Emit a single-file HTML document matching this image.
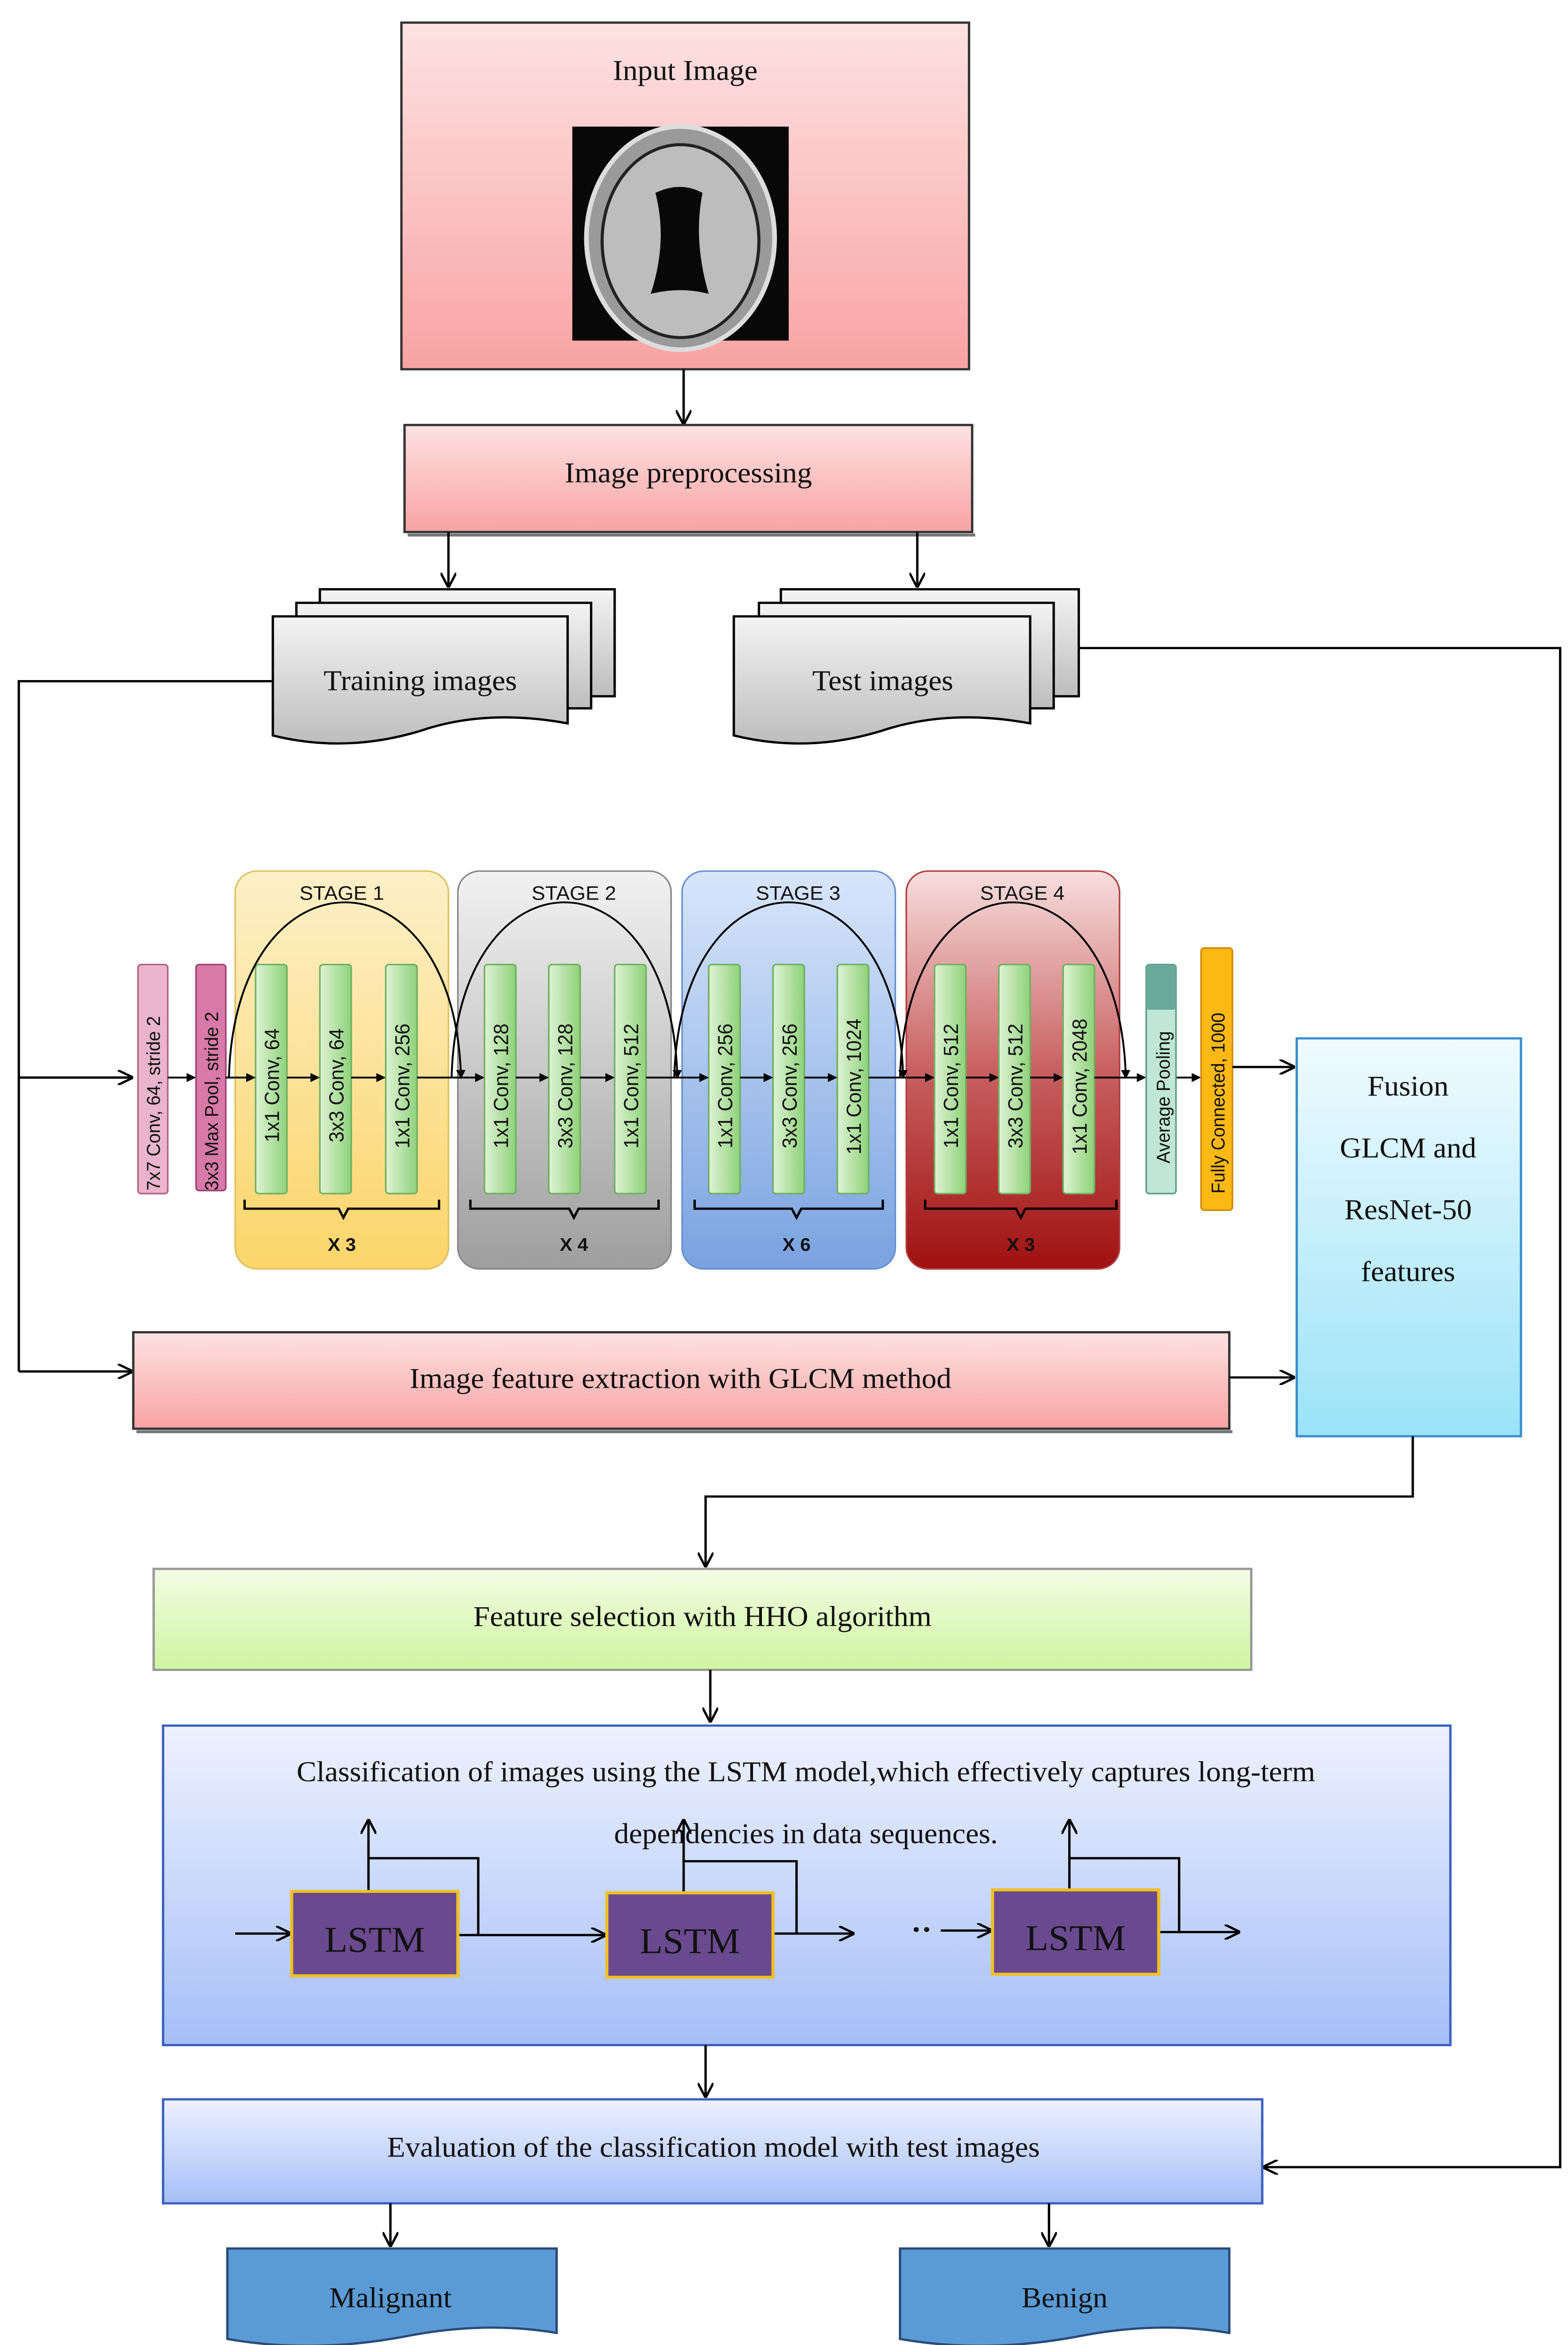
<!DOCTYPE html>
<html><head><meta charset="utf-8"><style>
html,body{margin:0;padding:0;background:#fff;width:100%;height:100%;overflow:hidden}
svg{display:block;position:absolute;left:0;top:0;width:100vw;height:100vh}
.s{font-family:"Liberation Serif",serif;fill:#111}
.a{font-family:"Liberation Sans",sans-serif;fill:#111}
</style></head><body>
<svg viewBox="0 0 1000 1556" preserveAspectRatio="none" xmlns="http://www.w3.org/2000/svg">
<defs>
<linearGradient id="pk" x1="0" y1="0" x2="0" y2="1"><stop offset="0" stop-color="#fde2e2"/><stop offset="1" stop-color="#f9a3a3"/></linearGradient>
<linearGradient id="gr" x1="0" y1="0" x2="0" y2="1"><stop offset="0" stop-color="#f4f4f4"/><stop offset="1" stop-color="#bdbdbd"/></linearGradient>
<linearGradient id="y1" x1="0" y1="0" x2="0" y2="1"><stop offset="0" stop-color="#fdf0c8"/><stop offset="1" stop-color="#fcd56a"/></linearGradient>
<linearGradient id="g2" x1="0" y1="0" x2="0" y2="1"><stop offset="0" stop-color="#f2f2f2"/><stop offset="1" stop-color="#9e9e9e"/></linearGradient>
<linearGradient id="b3" x1="0" y1="0" x2="0" y2="1"><stop offset="0" stop-color="#d8e6fb"/><stop offset="1" stop-color="#7aa2e0"/></linearGradient>
<linearGradient id="r4" x1="0" y1="0" x2="0" y2="1"><stop offset="0" stop-color="#f8dede"/><stop offset="0.5" stop-color="#c86060"/><stop offset="1" stop-color="#a01010"/></linearGradient>
<linearGradient id="gb" x1="0" y1="0" x2="1" y2="0"><stop offset="0" stop-color="#dff3d4"/><stop offset="1" stop-color="#8ed17a"/></linearGradient>
<linearGradient id="cy" x1="0" y1="0" x2="0" y2="1"><stop offset="0" stop-color="#f0fbff"/><stop offset="1" stop-color="#9be3f8"/></linearGradient>
<linearGradient id="lg" x1="0" y1="0" x2="0" y2="1"><stop offset="0" stop-color="#f3fde4"/><stop offset="1" stop-color="#cff5a0"/></linearGradient>
<linearGradient id="bl" x1="0" y1="0" x2="0" y2="1"><stop offset="0" stop-color="#eef2fe"/><stop offset="1" stop-color="#a6bff8"/></linearGradient>
<marker id="ar" markerWidth="10" markerHeight="10" refX="9" refY="5" orient="auto" markerUnits="userSpaceOnUse"><path d="M0,0 L10,5 L0,10" fill="none" stroke="#000" stroke-width="1.5"/></marker>
<marker id="sa" markerWidth="6" markerHeight="6" refX="5" refY="3" orient="auto" markerUnits="userSpaceOnUse"><path d="M0,0 L6,3 L0,6 Z" fill="#000"/></marker>
</defs>

<rect x="256" y="15" width="362" height="230" fill="url(#pk)" stroke="#333" stroke-width="1.5"/>
<text x="437" y="53" class="s" font-size="19" text-anchor="middle">Input Image</text>
<rect x="365" y="84" width="138" height="142" fill="#080808"/>
<ellipse cx="434" cy="158" rx="60" ry="74" fill="#9a9a9a" stroke="#ddd" stroke-width="3"/>
<ellipse cx="434" cy="160" rx="50" ry="64" fill="#bdbdbd" stroke="#222" stroke-width="2"/>
<path d="M418,128 Q434,120 448,128 Q442,160 452,195 Q434,190 415,195 Q426,160 418,128Z" fill="#080808"/>

<line x1="436" y1="245" x2="436" y2="281" stroke="#000" stroke-width="1.5" marker-end="url(#ar)"/>
<rect x="258" y="282" width="362" height="71" fill="url(#pk)" stroke="#333" stroke-width="1.5"/>
<line x1="260" y1="355" x2="622" y2="355" stroke="#777" stroke-width="2"/>
<text x="439" y="320" class="s" font-size="19" text-anchor="middle">Image preprocessing</text>
<line x1="286" y1="353" x2="286" y2="389" stroke="#000" stroke-width="1.5" marker-end="url(#ar)"/>
<line x1="585" y1="353" x2="585" y2="389" stroke="#000" stroke-width="1.5" marker-end="url(#ar)"/>

<rect x="204" y="391" width="188" height="71" fill="url(#gr)" stroke="#000" stroke-width="1.5"/>
<rect x="189" y="400" width="188" height="70" fill="url(#gr)" stroke="#000" stroke-width="1.5"/>
<path d="M174,409 H362 V480 Q310,470 268,485 Q220,500 174,488 Z" fill="url(#gr)" stroke="#000" stroke-width="1.5"/>
<text x="268" y="458" class="s" font-size="19" text-anchor="middle">Training images</text>
<rect x="498" y="391" width="190" height="71" fill="url(#gr)" stroke="#000" stroke-width="1.5"/>
<rect x="484" y="400" width="188" height="70" fill="url(#gr)" stroke="#000" stroke-width="1.5"/>
<path d="M468,409 H657 V480 Q605,470 562,485 Q515,500 468,488 Z" fill="url(#gr)" stroke="#000" stroke-width="1.5"/>
<text x="563" y="458" class="s" font-size="19" text-anchor="middle">Test images</text>

<polyline points="174,452 12,452 12,910" fill="none" stroke="#000" stroke-width="1.5"/>
<line x1="12" y1="715" x2="84" y2="715" stroke="#000" stroke-width="1.5" marker-end="url(#ar)"/>
<line x1="12" y1="910" x2="84" y2="910" stroke="#000" stroke-width="1.5" marker-end="url(#ar)"/>
<polyline points="688,430 995,430 995,1438 806,1438" fill="none" stroke="#000" stroke-width="1.5" marker-end="url(#ar)"/>

<rect x="88" y="640" width="19" height="152" rx="2" fill="#eab4cc" stroke="#b06080"/>
<text transform="translate(102,790) rotate(-90)" class="a" font-size="12">7x7 Conv, 64, stride 2</text>
<rect x="125" y="640" width="19" height="150" rx="2" fill="#d77aa8" stroke="#a04070"/>
<text transform="translate(139,790) rotate(-90)" class="a" font-size="12">3x3 Max Pool, stride 2</text>

<rect x="150" y="578" width="136" height="264" rx="14" fill="url(#y1)" stroke="#e0c060"/>
<rect x="292" y="578" width="136" height="264" rx="14" fill="url(#g2)" stroke="#888"/>
<rect x="435" y="578" width="136" height="264" rx="14" fill="url(#b3)" stroke="#6a90d0"/>
<rect x="578" y="578" width="136" height="264" rx="14" fill="url(#r4)" stroke="#b04040"/>
<g class="a" font-size="13" text-anchor="middle">
<text x="218" y="597">STAGE 1</text><text x="366" y="597">STAGE 2</text><text x="509" y="597">STAGE 3</text><text x="652" y="597">STAGE 4</text>
<text x="218" y="830" font-weight="bold" font-size="12">X 3</text><text x="366" y="830" font-weight="bold" font-size="12">X 4</text><text x="508" y="830" font-weight="bold" font-size="12">X 6</text><text x="651" y="830" font-weight="bold" font-size="12">X 3</text>
</g>
<g fill="url(#gb)" stroke="#6fb060">
<rect x="163" y="640" width="20" height="152" rx="2"/><rect x="204" y="640" width="20" height="152" rx="2"/><rect x="246" y="640" width="20" height="152" rx="2"/>
<rect x="309" y="640" width="20" height="152" rx="2"/><rect x="350" y="640" width="20" height="152" rx="2"/><rect x="392" y="640" width="20" height="152" rx="2"/>
<rect x="452" y="640" width="20" height="152" rx="2"/><rect x="493" y="640" width="20" height="152" rx="2"/><rect x="534" y="640" width="20" height="152" rx="2"/>
<rect x="596" y="640" width="20" height="152" rx="2"/><rect x="637" y="640" width="20" height="152" rx="2"/><rect x="678" y="640" width="20" height="152" rx="2"/>
</g>
<g class="a" font-size="13">
<text transform="translate(178,758) rotate(-90)">1x1 Conv, 64</text>
<text transform="translate(219,758) rotate(-90)">3x3 Conv, 64</text>
<text transform="translate(261,762) rotate(-90)">1x1 Conv, 256</text>
<text transform="translate(324,762) rotate(-90)">1x1 Conv, 128</text>
<text transform="translate(365,762) rotate(-90)">3x3 Conv, 128</text>
<text transform="translate(407,762) rotate(-90)">1x1 Conv, 512</text>
<text transform="translate(467,762) rotate(-90)">1x1 Conv, 256</text>
<text transform="translate(508,762) rotate(-90)">3x3 Conv, 256</text>
<text transform="translate(549,766) rotate(-90)">1x1 Conv, 1024</text>
<text transform="translate(611,762) rotate(-90)">1x1 Conv, 512</text>
<text transform="translate(652,762) rotate(-90)">3x3 Conv, 512</text>
<text transform="translate(693,766) rotate(-90)">1x1 Conv, 2048</text>
</g>
<g fill="none" stroke="#000" stroke-width="1.5">
<path d="M156,796 v6 H216 l3,6 l3,-6 H280 v-6"/>
<path d="M300,796 v6 H363 l3,6 l3,-6 H420 v-6"/>
<path d="M443,796 v6 H505 l3,6 l3,-6 H563 v-6"/>
<path d="M590,796 v6 H648 l3,6 l3,-6 H712 v-6"/>
</g>
<g stroke="#000" stroke-width="1.2" marker-end="url(#sa)">
<line x1="107" y1="715" x2="124" y2="715"/><line x1="144" y1="715" x2="162" y2="715"/>
<line x1="183" y1="715" x2="203" y2="715"/><line x1="224" y1="715" x2="245" y2="715"/><line x1="266" y1="715" x2="308" y2="715"/>
<line x1="329" y1="715" x2="349" y2="715"/><line x1="370" y1="715" x2="391" y2="715"/><line x1="412" y1="715" x2="451" y2="715"/>
<line x1="472" y1="715" x2="492" y2="715"/><line x1="513" y1="715" x2="533" y2="715"/><line x1="554" y1="715" x2="595" y2="715"/>
<line x1="616" y1="715" x2="636" y2="715"/><line x1="657" y1="715" x2="677" y2="715"/><line x1="698" y1="715" x2="730" y2="715"/>
<line x1="750" y1="715" x2="765" y2="715"/>
</g>
<g fill="none" stroke="#000" stroke-width="1.2" marker-end="url(#sa)">
<path d="M146,715 C150,560 290,560 294,715"/>
<path d="M288,715 C292,560 428,560 432,715"/>
<path d="M430,715 C434,560 572,560 576,715"/>
<path d="M574,715 C578,560 714,560 718,715"/>
</g>
<rect x="731" y="640" width="19" height="152" rx="2" fill="#bfe6d6" stroke="#5a9a8a"/>
<rect x="731" y="640" width="19" height="30" rx="2" fill="#6aaa9a"/>
<text transform="translate(746,772) rotate(-90)" class="a" font-size="12">Average Pooling</text>
<rect x="766" y="629" width="20" height="174" rx="2" fill="#fcb813" stroke="#d08800"/>
<text transform="translate(781,792) rotate(-90)" class="a" font-size="12">Fully Connected, 1000</text>
<line x1="786" y1="708" x2="825" y2="708" stroke="#000" stroke-width="1.5" marker-end="url(#ar)"/>

<rect x="827" y="689" width="143" height="264" fill="url(#cy)" stroke="#3a8fd0" stroke-width="1.5"/>
<g class="s" font-size="19" text-anchor="middle">
<text x="898" y="727">Fusion</text><text x="898" y="768">GLCM and</text><text x="898" y="809">ResNet-50</text><text x="898" y="850">features</text>
</g>

<rect x="85" y="884" width="699" height="64" fill="url(#pk)" stroke="#333" stroke-width="1.5"/>
<line x1="87" y1="950" x2="786" y2="950" stroke="#777" stroke-width="2"/>
<text x="434" y="921" class="s" font-size="19" text-anchor="middle">Image feature extraction with GLCM method</text>
<line x1="784" y1="914" x2="825" y2="914" stroke="#000" stroke-width="1.5" marker-end="url(#ar)"/>

<polyline points="901,953 901,993 450,993 450,1039" fill="none" stroke="#000" stroke-width="1.5" marker-end="url(#ar)"/>

<rect x="98" y="1041" width="700" height="67" fill="url(#lg)" stroke="#999" stroke-width="1.5"/>
<text x="448" y="1079" class="s" font-size="19" text-anchor="middle">Feature selection with HHO algorithm</text>
<line x1="453" y1="1108" x2="453" y2="1142" stroke="#000" stroke-width="1.5" marker-end="url(#ar)"/>

<rect x="104" y="1145" width="821" height="212" fill="url(#bl)" stroke="#3a5fc0" stroke-width="1.5"/>
<text x="514" y="1182" class="s" font-size="19" text-anchor="middle">Classification of images using the LSTM model,which effectively captures long-term</text>
<text x="514" y="1223" class="s" font-size="19" text-anchor="middle">dependencies in data sequences.</text>
<g fill="none" stroke="#000" stroke-width="1.5">
<line x1="150" y1="1283" x2="185" y2="1283" marker-end="url(#ar)"/>
<line x1="292" y1="1284" x2="386" y2="1284" marker-end="url(#ar)"/>
<polyline points="235,1255 235,1233 305,1233 305,1284"/>
<line x1="235" y1="1233" x2="235" y2="1208" marker-end="url(#ar)"/>
<polyline points="436,1255 436,1235 508,1235 508,1283"/>
<line x1="436" y1="1235" x2="436" y2="1208" marker-end="url(#ar)"/>
<line x1="493" y1="1283" x2="544" y2="1283" marker-end="url(#ar)"/>
<line x1="600" y1="1281" x2="632" y2="1281" marker-end="url(#ar)"/>
<polyline points="682,1255 682,1233 752,1233 752,1282"/>
<line x1="682" y1="1233" x2="682" y2="1208" marker-end="url(#ar)"/>
<line x1="739" y1="1282" x2="790" y2="1282" marker-end="url(#ar)"/>
</g>
<text x="581" y="1287" class="s" font-size="20" font-weight="bold">··</text>
<g fill="#6a4a8e" stroke="#f0c020" stroke-width="2">
<rect x="186" y="1255" width="106" height="56"/><rect x="387" y="1256" width="106" height="56"/><rect x="633" y="1254" width="106" height="56"/>
</g>
<g class="s" font-size="24" text-anchor="middle" fill="#111">
<text x="239" y="1295">LSTM</text><text x="440" y="1296">LSTM</text><text x="686" y="1294">LSTM</text>
</g>
<line x1="450" y1="1357" x2="450" y2="1391" stroke="#000" stroke-width="1.5" marker-end="url(#ar)"/>

<rect x="104" y="1393" width="701" height="69" fill="url(#bl)" stroke="#3a5fc0" stroke-width="1.5"/>
<text x="455" y="1431" class="s" font-size="19" text-anchor="middle">Evaluation of the classification model with test images</text>
<line x1="249" y1="1462" x2="249" y2="1490" stroke="#000" stroke-width="1.5" marker-end="url(#ar)"/>
<line x1="669" y1="1462" x2="669" y2="1490" stroke="#000" stroke-width="1.5" marker-end="url(#ar)"/>

<path d="M145,1492 H355 V1548 Q310,1540 260,1550 Q200,1562 145,1552 Z" fill="#5b9bd5" stroke="#2a4a7a" stroke-width="1.5"/>
<text x="249" y="1531" class="s" font-size="19" text-anchor="middle">Malignant</text>
<path d="M574,1492 H784 V1548 Q739,1540 689,1550 Q629,1562 574,1552 Z" fill="#5b9bd5" stroke="#2a4a7a" stroke-width="1.5"/>
<text x="679" y="1531" class="s" font-size="19" text-anchor="middle">Benign</text>
</svg>
</body></html>
